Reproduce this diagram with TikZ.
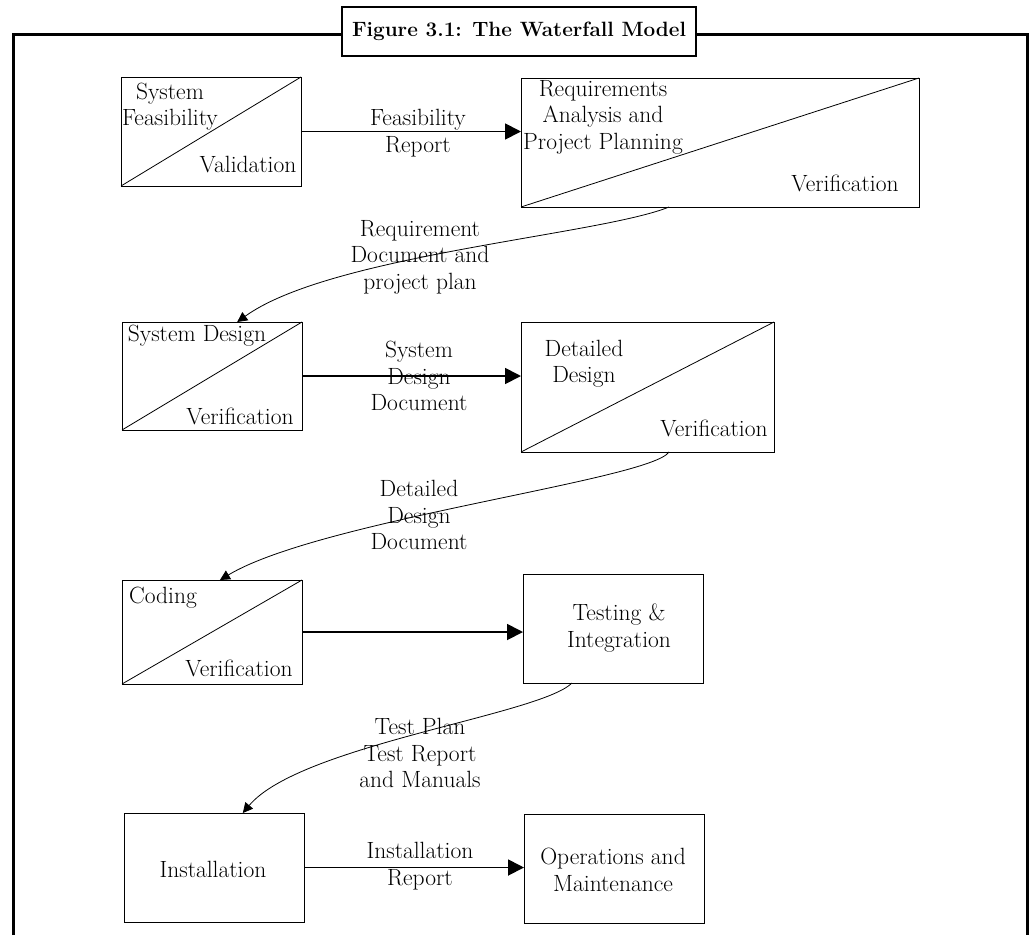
\documentclass[tikz,border=0pt]{standalone}
\usetikzlibrary{arrows.meta,calc}
\newcommand\wfbody{\fontsize{23.5}{26.5}\selectfont}
\begin{document}
\begin{tikzpicture}[x=1pt,y=-1pt,
  box/.style={draw, line width=0.9pt, inner sep=0pt, outer sep=0pt, anchor=north west},
  lbl/.style={align=center, font=\wfbody, inner sep=0pt},
  diag/.style={line width=0.8pt},
  harrow/.style={line width=1.8pt, -{Triangle[length=16pt,width=16pt]}},
  carrow/.style={line width=0.8pt, -{Triangle[length=10pt,width=10pt]}},
  frame/.style={line width=3pt}]
\useasboundingbox (0,0) rectangle (1032,935);
% frame
\coordinate (fbl) at (13,935);
\coordinate (ftl) at (13,34);
\coordinate (ftr) at (1027,34);
\coordinate (fbr) at (1027,935);
\draw[frame] (fbl) -- (ftl) -- (ftr) -- (fbr);
\node[draw, line width=2.5pt, fill=white, minimum width=354pt, minimum height=49pt,
      inner sep=0pt, font=\bfseries\fontsize{20.7}{24}\selectfont] (title) at (519,31.5)
      {Figure 3.1: The Waterfall Model};
% boxes
\node[box, minimum width=180pt, minimum height=109pt] (sf) at (121,77) {};
\node[box, minimum width=398pt, minimum height=129pt] (rq) at (521,78) {};
\node[box, minimum width=180pt, minimum height=108pt] (sd) at (122,322) {};
\node[box, minimum width=253pt, minimum height=130pt] (dd) at (521,322) {};
\node[box, minimum width=180pt, minimum height=104pt] (cd) at (122,580) {};
\node[box, minimum width=180pt, minimum height=109pt] (ti) at (523,574) {};
\node[box, minimum width=180pt, minimum height=109pt] (in) at (124,813) {};
\node[box, minimum width=180pt, minimum height=109pt] (om) at (524,814) {};
% diagonals
\draw[diag] (sf.south west) -- (sf.north east);
\draw[diag] (rq.south west) -- (rq.north east);
\draw[diag] (sd.south west) -- (sd.north east);
\draw[diag] (dd.south west) -- (dd.north east);
\draw[diag] (cd.south west) -- (cd.north east);
% box texts
\node[lbl] (sft) at (170,106.5) {System\\Feasibility};
\node[lbl] (sfv) at (248,165) {Validation};
\node[lbl] (rqt) at (603,117) {Requirements\\Analysis and\\Project Planning};
\node[lbl] (rqv) at (845,183) {Verification};
\node[lbl] (sdt) at (197,336) {System Design};
\node[lbl] (sdv) at (240,416) {Verification};
\node[lbl] (ddt) at (584,363.5) {Detailed\\Design};
\node[lbl] (ddv) at (714,428) {Verification};
\node[lbl] (cdt) at (163,598) {Coding};
\node[lbl] (cdv) at (239,668) {Verification};
\node[lbl] (tit) at (619,628) {Testing \&\\Integration};
\node[lbl] (int) at (213,869) {Installation};
\node[lbl] (omt) at (613,870) {Operations and\\Maintenance};
% horizontal arrows
\draw[harrow] (sf.east) -- (sf.east -| rq.west);
\draw[harrow] (sd.east) -- (sd.east -| dd.west);
\draw[harrow] (cd.east) -- (cd.east -| ti.west);
\draw[harrow] (in.east) -- (in.east -| om.west);
\node[lbl] (l1) at (418,133) {Feasibility\\Report};
\node[lbl] (l2) at (419,376) {System\\Design\\Document};
\node[lbl] (l4) at (420,866) {Installation\\Report};
% curved connectors
\coordinate (c1s) at ($(rq.south west)!0.372!(rq.south east)$);
\coordinate (c1e) at ($(sd.north west)!0.64!(sd.north east)$);
\draw[carrow] (c1s) .. controls (600,235) and (330,255) .. (c1e);
\coordinate (c2s) at ($(dd.south west)!0.585!(dd.south east)$);
\coordinate (c2e) at ($(cd.north west)!0.544!(cd.north east)$);
\draw[carrow] (c2s) .. controls (650,480) and (320,520) .. (c2e);
\coordinate (c3s) at ($(ti.south west)!0.272!(ti.south east)$);
\coordinate (c3e) at ($(in.north west)!0.66!(in.north east)$);
\draw[carrow] (c3s) .. controls (540,715) and (300,745) .. (c3e);
\node[lbl] (l11) at (420,257) {Requirement\\Document and\\project plan};
\node[lbl] (l22) at (419,515) {Detailed\\Design\\Document};
\node[lbl] (l33) at (420,753) {Test Plan\\Test Report\\and Manuals};
\end{tikzpicture}
\end{document}
